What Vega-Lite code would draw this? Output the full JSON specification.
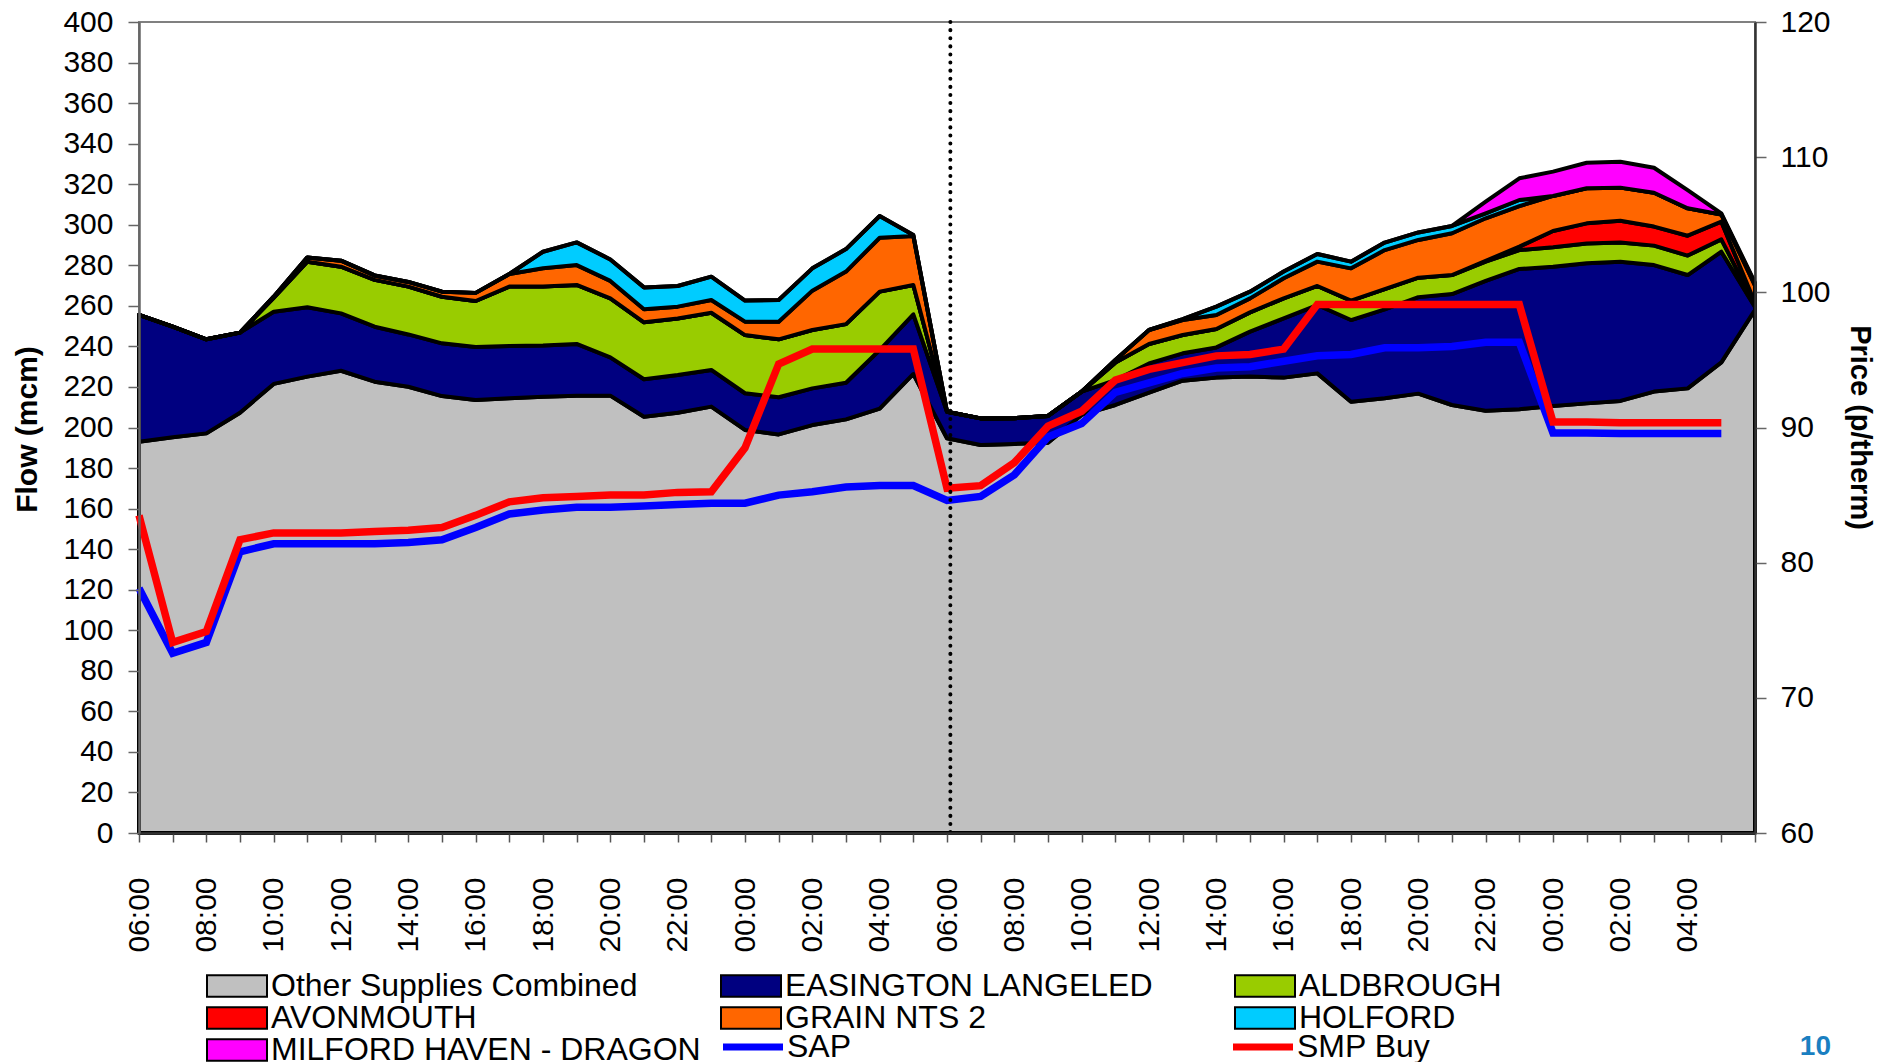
{
  "$schema": "https://vega.github.io/schema/vega-lite/v6.json",
  "width": 1616,
  "height": 811,
  "autosize": "none",
  "padding": {"left": 139, "top": 22, "right": 141, "bottom": 229},
  "background": "white",
  "config": {
    "font": "Liberation Sans",
    "view": {"stroke": "#808080", "strokeWidth": 2}
  },
  "title": {
    "text": "10",
    "orient": "bottom",
    "anchor": "end",
    "frame": "group",
    "offset": -33,
    "dx": 76,
    "color": "#1a7fc1",
    "fontSize": 28,
    "fontWeight": "bold",
    "font": "Liberation Sans"
  },
  "datasets": {
    "flows": [
      {"h":0,"Other Supplies Combined":193.0,"EASINGTON LANGELED":62.5,"ALDBROUGH":0,"AVONMOUTH":0,"GRAIN NTS 2":0,"HOLFORD":0,"MILFORD HAVEN - DRAGON":0},
      {"h":1,"Other Supplies Combined":195.2,"EASINGTON LANGELED":54.5,"ALDBROUGH":0,"AVONMOUTH":0,"GRAIN NTS 2":0,"HOLFORD":0,"MILFORD HAVEN - DRAGON":0},
      {"h":2,"Other Supplies Combined":197.1,"EASINGTON LANGELED":46.4,"ALDBROUGH":0,"AVONMOUTH":0,"GRAIN NTS 2":0,"HOLFORD":0,"MILFORD HAVEN - DRAGON":0},
      {"h":3,"Other Supplies Combined":207.3,"EASINGTON LANGELED":39.5,"ALDBROUGH":0,"AVONMOUTH":0,"GRAIN NTS 2":0,"HOLFORD":0,"MILFORD HAVEN - DRAGON":0},
      {"h":4,"Other Supplies Combined":221.5,"EASINGTON LANGELED":35.6,"ALDBROUGH":6.9,"AVONMOUTH":0,"GRAIN NTS 2":0.5,"HOLFORD":0,"MILFORD HAVEN - DRAGON":0},
      {"h":5,"Other Supplies Combined":225.1,"EASINGTON LANGELED":34.2,"ALDBROUGH":22.5,"AVONMOUTH":0,"GRAIN NTS 2":2.1,"HOLFORD":0,"MILFORD HAVEN - DRAGON":0},
      {"h":6,"Other Supplies Combined":228.0,"EASINGTON LANGELED":28.3,"ALDBROUGH":23.0,"AVONMOUTH":0,"GRAIN NTS 2":3.0,"HOLFORD":0,"MILFORD HAVEN - DRAGON":0},
      {"h":7,"Other Supplies Combined":222.6,"EASINGTON LANGELED":27.1,"ALDBROUGH":23.1,"AVONMOUTH":0,"GRAIN NTS 2":2.2,"HOLFORD":0,"MILFORD HAVEN - DRAGON":0},
      {"h":8,"Other Supplies Combined":220.1,"EASINGTON LANGELED":25.8,"ALDBROUGH":23.6,"AVONMOUTH":0,"GRAIN NTS 2":2.3,"HOLFORD":0,"MILFORD HAVEN - DRAGON":0},
      {"h":9,"Other Supplies Combined":215.5,"EASINGTON LANGELED":26.0,"ALDBROUGH":23.0,"AVONMOUTH":0,"GRAIN NTS 2":2.5,"HOLFORD":0,"MILFORD HAVEN - DRAGON":0},
      {"h":10,"Other Supplies Combined":213.6,"EASINGTON LANGELED":26.1,"ALDBROUGH":22.7,"AVONMOUTH":0,"GRAIN NTS 2":4.0,"HOLFORD":0,"MILFORD HAVEN - DRAGON":0},
      {"h":11,"Other Supplies Combined":214.4,"EASINGTON LANGELED":25.8,"ALDBROUGH":29.3,"AVONMOUTH":0,"GRAIN NTS 2":6.2,"HOLFORD":0,"MILFORD HAVEN - DRAGON":0},
      {"h":12,"Other Supplies Combined":215.2,"EASINGTON LANGELED":25.3,"ALDBROUGH":29.0,"AVONMOUTH":0,"GRAIN NTS 2":9.0,"HOLFORD":8.2,"MILFORD HAVEN - DRAGON":0},
      {"h":13,"Other Supplies Combined":215.7,"EASINGTON LANGELED":25.5,"ALDBROUGH":29.1,"AVONMOUTH":0,"GRAIN NTS 2":9.8,"HOLFORD":11.2,"MILFORD HAVEN - DRAGON":0},
      {"h":14,"Other Supplies Combined":215.7,"EASINGTON LANGELED":18.9,"ALDBROUGH":29.1,"AVONMOUTH":0,"GRAIN NTS 2":8.6,"HOLFORD":10.6,"MILFORD HAVEN - DRAGON":0},
      {"h":15,"Other Supplies Combined":205.3,"EASINGTON LANGELED":18.5,"ALDBROUGH":28.1,"AVONMOUTH":0,"GRAIN NTS 2":6.4,"HOLFORD":10.8,"MILFORD HAVEN - DRAGON":0},
      {"h":16,"Other Supplies Combined":207.3,"EASINGTON LANGELED":18.6,"ALDBROUGH":27.9,"AVONMOUTH":0,"GRAIN NTS 2":5.8,"HOLFORD":10.2,"MILFORD HAVEN - DRAGON":0},
      {"h":17,"Other Supplies Combined":210.3,"EASINGTON LANGELED":18.1,"ALDBROUGH":28.2,"AVONMOUTH":0,"GRAIN NTS 2":6.3,"HOLFORD":11.5,"MILFORD HAVEN - DRAGON":0},
      {"h":18,"Other Supplies Combined":198.8,"EASINGTON LANGELED":18.1,"ALDBROUGH":28.7,"AVONMOUTH":0,"GRAIN NTS 2":6.6,"HOLFORD":10.4,"MILFORD HAVEN - DRAGON":0},
      {"h":19,"Other Supplies Combined":196.6,"EASINGTON LANGELED":18.3,"ALDBROUGH":28.6,"AVONMOUTH":0,"GRAIN NTS 2":8.7,"HOLFORD":10.7,"MILFORD HAVEN - DRAGON":0},
      {"h":20,"Other Supplies Combined":201.2,"EASINGTON LANGELED":18.1,"ALDBROUGH":28.8,"AVONMOUTH":0,"GRAIN NTS 2":19.4,"HOLFORD":11.0,"MILFORD HAVEN - DRAGON":0},
      {"h":21,"Other Supplies Combined":204.0,"EASINGTON LANGELED":18.1,"ALDBROUGH":28.9,"AVONMOUTH":0,"GRAIN NTS 2":25.9,"HOLFORD":11.1,"MILFORD HAVEN - DRAGON":0},
      {"h":22,"Other Supplies Combined":209.3,"EASINGTON LANGELED":28.9,"ALDBROUGH":28.8,"AVONMOUTH":0,"GRAIN NTS 2":26.6,"HOLFORD":10.7,"MILFORD HAVEN - DRAGON":0},
      {"h":23,"Other Supplies Combined":226.4,"EASINGTON LANGELED":29.4,"ALDBROUGH":14.5,"AVONMOUTH":0,"GRAIN NTS 2":24.2,"HOLFORD":0.4,"MILFORD HAVEN - DRAGON":0},
      {"h":24,"Other Supplies Combined":194.7,"EASINGTON LANGELED":13.1,"ALDBROUGH":0,"AVONMOUTH":0,"GRAIN NTS 2":0,"HOLFORD":0,"MILFORD HAVEN - DRAGON":0},
      {"h":25,"Other Supplies Combined":191.4,"EASINGTON LANGELED":13.1,"ALDBROUGH":0,"AVONMOUTH":0,"GRAIN NTS 2":0,"HOLFORD":0,"MILFORD HAVEN - DRAGON":0},
      {"h":26,"Other Supplies Combined":191.9,"EASINGTON LANGELED":12.7,"ALDBROUGH":0,"AVONMOUTH":0,"GRAIN NTS 2":0,"HOLFORD":0,"MILFORD HAVEN - DRAGON":0},
      {"h":27,"Other Supplies Combined":192.5,"EASINGTON LANGELED":13.2,"ALDBROUGH":0,"AVONMOUTH":0,"GRAIN NTS 2":0,"HOLFORD":0,"MILFORD HAVEN - DRAGON":0},
      {"h":28,"Other Supplies Combined":206.2,"EASINGTON LANGELED":11.5,"ALDBROUGH":0,"AVONMOUTH":0,"GRAIN NTS 2":0,"HOLFORD":0,"MILFORD HAVEN - DRAGON":0},
      {"h":29,"Other Supplies Combined":211.1,"EASINGTON LANGELED":12.3,"ALDBROUGH":8.6,"AVONMOUTH":0,"GRAIN NTS 2":1.3,"HOLFORD":0,"MILFORD HAVEN - DRAGON":0},
      {"h":30,"Other Supplies Combined":217.2,"EASINGTON LANGELED":14.4,"ALDBROUGH":9.6,"AVONMOUTH":0,"GRAIN NTS 2":6.9,"HOLFORD":0,"MILFORD HAVEN - DRAGON":0},
      {"h":31,"Other Supplies Combined":223.1,"EASINGTON LANGELED":13.5,"ALDBROUGH":9.0,"AVONMOUTH":0,"GRAIN NTS 2":7.4,"HOLFORD":0.4,"MILFORD HAVEN - DRAGON":0},
      {"h":32,"Other Supplies Combined":224.6,"EASINGTON LANGELED":14.9,"ALDBROUGH":9.1,"AVONMOUTH":0,"GRAIN NTS 2":6.9,"HOLFORD":4.1,"MILFORD HAVEN - DRAGON":0},
      {"h":33,"Other Supplies Combined":225.1,"EASINGTON LANGELED":22.2,"ALDBROUGH":9.5,"AVONMOUTH":0,"GRAIN NTS 2":6.9,"HOLFORD":3.3,"MILFORD HAVEN - DRAGON":0},
      {"h":34,"Other Supplies Combined":224.6,"EASINGTON LANGELED":29.2,"ALDBROUGH":9.9,"AVONMOUTH":0,"GRAIN NTS 2":9.9,"HOLFORD":3.3,"MILFORD HAVEN - DRAGON":0},
      {"h":35,"Other Supplies Combined":226.7,"EASINGTON LANGELED":33.7,"ALDBROUGH":9.4,"AVONMOUTH":0,"GRAIN NTS 2":12.0,"HOLFORD":3.8,"MILFORD HAVEN - DRAGON":0},
      {"h":36,"Other Supplies Combined":212.7,"EASINGTON LANGELED":40.3,"ALDBROUGH":9.6,"AVONMOUTH":0,"GRAIN NTS 2":15.9,"HOLFORD":3.3,"MILFORD HAVEN - DRAGON":0},
      {"h":37,"Other Supplies Combined":214.4,"EASINGTON LANGELED":43.9,"ALDBROUGH":9.9,"AVONMOUTH":0,"GRAIN NTS 2":19.3,"HOLFORD":3.7,"MILFORD HAVEN - DRAGON":0},
      {"h":38,"Other Supplies Combined":216.7,"EASINGTON LANGELED":47.6,"ALDBROUGH":9.6,"AVONMOUTH":0,"GRAIN NTS 2":18.6,"HOLFORD":3.7,"MILFORD HAVEN - DRAGON":0},
      {"h":39,"Other Supplies Combined":211.1,"EASINGTON LANGELED":54.7,"ALDBROUGH":9.4,"AVONMOUTH":0,"GRAIN NTS 2":20.6,"HOLFORD":3.6,"MILFORD HAVEN - DRAGON":0},
      {"h":40,"Other Supplies Combined":208.3,"EASINGTON LANGELED":64.0,"ALDBROUGH":9.5,"AVONMOUTH":0.4,"GRAIN NTS 2":21.0,"HOLFORD":2.4,"MILFORD HAVEN - DRAGON":5.8},
      {"h":41,"Other Supplies Combined":209.0,"EASINGTON LANGELED":69.2,"ALDBROUGH":9.3,"AVONMOUTH":1.7,"GRAIN NTS 2":20.0,"HOLFORD":3.0,"MILFORD HAVEN - DRAGON":10.7},
      {"h":42,"Other Supplies Combined":210.6,"EASINGTON LANGELED":68.7,"ALDBROUGH":9.6,"AVONMOUTH":8.0,"GRAIN NTS 2":17.3,"HOLFORD":0,"MILFORD HAVEN - DRAGON":12.0},
      {"h":43,"Other Supplies Combined":211.9,"EASINGTON LANGELED":69.1,"ALDBROUGH":9.8,"AVONMOUTH":9.9,"GRAIN NTS 2":17.3,"HOLFORD":0,"MILFORD HAVEN - DRAGON":12.6},
      {"h":44,"Other Supplies Combined":213.1,"EASINGTON LANGELED":68.7,"ALDBROUGH":9.5,"AVONMOUTH":10.7,"GRAIN NTS 2":16.3,"HOLFORD":0,"MILFORD HAVEN - DRAGON":12.8},
      {"h":45,"Other Supplies Combined":217.7,"EASINGTON LANGELED":62.4,"ALDBROUGH":9.6,"AVONMOUTH":9.4,"GRAIN NTS 2":16.7,"HOLFORD":0,"MILFORD HAVEN - DRAGON":12.3},
      {"h":46,"Other Supplies Combined":219.3,"EASINGTON LANGELED":55.9,"ALDBROUGH":9.6,"AVONMOUTH":9.8,"GRAIN NTS 2":13.5,"HOLFORD":0,"MILFORD HAVEN - DRAGON":9.0},
      {"h":47,"Other Supplies Combined":232.1,"EASINGTON LANGELED":54.6,"ALDBROUGH":6.1,"AVONMOUTH":8.7,"GRAIN NTS 2":3.6,"HOLFORD":0,"MILFORD HAVEN - DRAGON":0.5},
      {"h":48,"Other Supplies Combined":258.0,"EASINGTON LANGELED":1.5,"ALDBROUGH":1.0,"AVONMOUTH":1.0,"GRAIN NTS 2":8.5,"HOLFORD":1.0,"MILFORD HAVEN - DRAGON":0.5}
    ],
    "prices": [
      {"h":0,"SAP":78.1,"SMP Buy":83.5},
      {"h":1,"SAP":73.3,"SMP Buy":74.1},
      {"h":2,"SAP":74.1,"SMP Buy":74.9},
      {"h":3,"SAP":80.8,"SMP Buy":81.7},
      {"h":4,"SAP":81.4,"SMP Buy":82.2},
      {"h":5,"SAP":81.4,"SMP Buy":82.2},
      {"h":6,"SAP":81.4,"SMP Buy":82.2},
      {"h":7,"SAP":81.4,"SMP Buy":82.3},
      {"h":8,"SAP":81.5,"SMP Buy":82.4},
      {"h":9,"SAP":81.7,"SMP Buy":82.6},
      {"h":10,"SAP":82.6,"SMP Buy":83.5},
      {"h":11,"SAP":83.6,"SMP Buy":84.5},
      {"h":12,"SAP":83.9,"SMP Buy":84.8},
      {"h":13,"SAP":84.1,"SMP Buy":84.9},
      {"h":14,"SAP":84.1,"SMP Buy":85.0},
      {"h":15,"SAP":84.2,"SMP Buy":85.0},
      {"h":16,"SAP":84.3,"SMP Buy":85.2},
      {"h":17,"SAP":84.4,"SMP Buy":85.25},
      {"h":18,"SAP":84.4,"SMP Buy":88.5},
      {"h":19,"SAP":85.0,"SMP Buy":94.7},
      {"h":20,"SAP":85.25,"SMP Buy":95.8},
      {"h":21,"SAP":85.6,"SMP Buy":95.8},
      {"h":22,"SAP":85.7,"SMP Buy":95.8},
      {"h":23,"SAP":85.7,"SMP Buy":95.8},
      {"h":24,"SAP":84.6,"SMP Buy":85.5},
      {"h":25,"SAP":84.9,"SMP Buy":85.7},
      {"h":26,"SAP":86.5,"SMP Buy":87.4},
      {"h":27,"SAP":89.3,"SMP Buy":90.1},
      {"h":28,"SAP":90.3,"SMP Buy":91.2},
      {"h":29,"SAP":92.6,"SMP Buy":93.5},
      {"h":30,"SAP":93.3,"SMP Buy":94.3},
      {"h":31,"SAP":94.0,"SMP Buy":94.8},
      {"h":32,"SAP":94.4,"SMP Buy":95.3},
      {"h":33,"SAP":94.5,"SMP Buy":95.4},
      {"h":34,"SAP":94.9,"SMP Buy":95.8},
      {"h":35,"SAP":95.3,"SMP Buy":99.1},
      {"h":36,"SAP":95.4,"SMP Buy":99.1},
      {"h":37,"SAP":95.9,"SMP Buy":99.1},
      {"h":38,"SAP":95.9,"SMP Buy":99.1},
      {"h":39,"SAP":96.0,"SMP Buy":99.1},
      {"h":40,"SAP":96.3,"SMP Buy":99.1},
      {"h":41,"SAP":96.3,"SMP Buy":99.1},
      {"h":42,"SAP":89.6,"SMP Buy":90.4},
      {"h":43,"SAP":89.6,"SMP Buy":90.4},
      {"h":44,"SAP":89.55,"SMP Buy":90.35},
      {"h":45,"SAP":89.55,"SMP Buy":90.35},
      {"h":46,"SAP":89.55,"SMP Buy":90.35},
      {"h":47,"SAP":89.55,"SMP Buy":90.35}
    ]
  },
  "layer": [
    {
      "layer": [
        {
          "data": {"name": "flows"},
          "transform": [
            {"fold": ["Other Supplies Combined","EASINGTON LANGELED","ALDBROUGH","AVONMOUTH","GRAIN NTS 2","HOLFORD","MILFORD HAVEN - DRAGON"], "as": ["series","flow"]},
            {"calculate": "indexof(['Other Supplies Combined','EASINGTON LANGELED','ALDBROUGH','AVONMOUTH','GRAIN NTS 2','HOLFORD','MILFORD HAVEN - DRAGON'], datum.series)", "as": "k"}
          ],
          "mark": {"type": "area", "stroke": "black", "strokeWidth": 4, "opacity": 1, "strokeJoin": "round"},
          "encoding": {
            "x": {
              "field": "h", "type": "quantitative",
              "scale": {"domain": [0, 48], "nice": false, "zero": false},
              "axis": {
                "tickCount": 48, "grid": false, "title": null,
                "labelExpr": "(datum.value % 2 == 0 && datum.value < 47) ? ((((datum.value + 6) % 24) < 10 ? '0' : '') + ((datum.value + 6) % 24) + ':00') : ''",
                "labelAngle": -90, "labelFontSize": 30, "labelFont": "Liberation Sans", "labelColor": "black",
                "labelPadding": 35, "labelFlush": false, "labelOverlap": false, "labelBound": false,
                "tickSize": 9, "tickColor": "#555555", "tickWidth": 1.5,
                "domainColor": "#333333", "domainWidth": 2.5, "zindex": 1
              }
            },
            "y": {
              "field": "flow", "type": "quantitative", "stack": "zero",
              "scale": {"domain": [0, 400], "nice": false},
              "axis": {
                "tickCount": 20, "grid": false, "title": "Flow (mcm)",
                "titleFont": "Liberation Sans", "titleFontSize": 30, "titleFontWeight": "bold", "titleColor": "black",
                "titleAngle": -90, "titleX": -112, "titleY": 407, "titleAlign": "center", "titleBaseline": "middle",
                "labelFontSize": 30, "labelFont": "Liberation Sans", "labelColor": "black", "labelPadding": 15,
                "labelFlush": false, "labelOverlap": false,
                "tickSize": 11, "tickColor": "#666666", "tickWidth": 1.5,
                "domainColor": "#666666", "domainWidth": 2.5, "zindex": 1
              }
            },
            "fill": {
              "field": "series", "type": "nominal",
              "scale": {
                "domain": ["Other Supplies Combined","EASINGTON LANGELED","ALDBROUGH","AVONMOUTH","GRAIN NTS 2","HOLFORD","MILFORD HAVEN - DRAGON"],
                "range": ["#C0C0C0","#000080","#99CC00","#FF0000","#FF6600","#00CCFF","#FF00FF"]
              },
              "legend": {
                "orient": "none", "legendX": 82, "legendY": 948,
                "direction": "horizontal",
                "columns": 3, "gridAlign": "all", "columnPadding": 16, "rowPadding": -7,
                "title": null, "padding": 0,
                "labelFont": "Liberation Sans", "labelFontSize": 32, "labelColor": "black", "labelLimit": 800,
                "labelOffset": 18, "symbolSize": 576,
                "symbolType": "M-2.5,-0.9H2.5V0.9H-2.5Z",
                "symbolStrokeColor": "black", "symbolStrokeWidth": 2, "symbolOpacity": 1
              }
            },
            "order": {"field": "k", "type": "quantitative", "sort": "ascending"}
          }
        },
        {
          "mark": {"type": "text", "font": "Liberation Sans", "fontSize": 25, "fontWeight": "bold", "color": "black", "align": "center", "baseline": "middle"},
          "encoding": {
            "x": {"datum": 12},
            "y": {"datum": 379},
            "text": {"value": "2nd March"}
          }
        },
        {
          "mark": {"type": "text", "font": "Liberation Sans", "fontSize": 25, "fontWeight": "bold", "color": "black", "align": "center", "baseline": "middle"},
          "encoding": {
            "x": {"datum": 35.85},
            "y": {"datum": 379},
            "text": {"value": "3rd March"}
          }
        }
      ]
    },
    {
      "data": {"name": "prices"},
      "transform": [
        {"fold": ["SAP", "SMP Buy"], "as": ["series", "price"]}
      ],
      "mark": {"type": "line", "strokeWidth": 7.5, "strokeJoin": "miter"},
      "encoding": {
        "x": {"field": "h", "type": "quantitative"},
        "y": {
          "field": "price", "type": "quantitative",
          "scale": {"domain": [60, 120], "nice": false, "zero": false},
          "axis": {
            "orient": "right", "tickCount": 6, "grid": false, "title": "Price (p/therm)",
            "titleFont": "Liberation Sans", "titleFontSize": 29, "titleFontWeight": "bold", "titleColor": "black",
            "titleAngle": 90, "titleX": 104, "titleY": 405, "titleAlign": "center", "titleBaseline": "middle",
            "labelFontSize": 30, "labelFont": "Liberation Sans", "labelColor": "black", "labelPadding": 14,
            "labelFlush": false, "labelOverlap": false,
            "tickSize": 11, "tickColor": "#666666", "tickWidth": 1.5,
            "domainColor": "#333333", "domainWidth": 2.5, "zindex": 1
          }
        },
        "stroke": {
          "field": "series", "type": "nominal",
          "scale": {"domain": ["SAP", "SMP Buy"], "range": ["#0000FF", "#FF0000"]},
          "legend": {
            "orient": "none", "legendX": 598, "legendY": 1009,
            "direction": "horizontal",
            "columns": 2, "gridAlign": "all", "columnPadding": 298, "rowPadding": -6,
            "title": null, "padding": 0,
            "labelFont": "Liberation Sans", "labelFontSize": 32, "labelColor": "black", "labelLimit": 800,
            "labelOffset": 18, "symbolSize": 576,
            "symbolType": "M-2.5,0H2.5",
            "symbolStrokeWidth": 7, "symbolOpacity": 1
          }
        }
      }
    },
    {
      "data": {"values": [{"boundary": "3rd March 06:00", "h": 24.1}]},
      "mark": {"type": "rule", "color": "black", "strokeWidth": 4, "strokeDash": [0.1, 8], "strokeCap": "round"},
      "encoding": {
        "x": {"field": "h", "type": "quantitative"}
      }
    }
  ],
  "resolve": {"scale": {"y": "independent"}}
}
